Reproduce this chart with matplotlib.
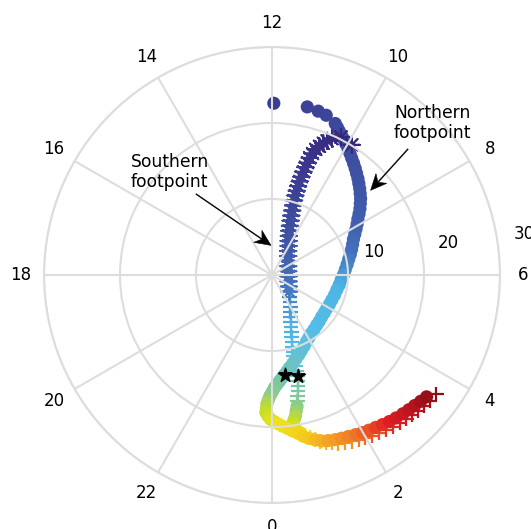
import numpy as np
import matplotlib
matplotlib.use('Agg')
import matplotlib.pyplot as plt
from matplotlib.colors import LinearSegmentedColormap
from matplotlib.patches import FancyArrow

# Northern footpoint track: magnetic local time (h), colatitude (deg), normalised time
north_mlt = [11.96, 11.21, 10.95, 10.75, 10.49, 10.41, 10.33, 10.24, 10.14, 10.04,
             9.93, 9.82, 9.71, 9.59, 9.47, 9.35, 9.22, 9.10, 8.97, 8.85,
             8.72, 8.60, 8.47, 8.34, 8.21, 8.06, 7.91, 7.75, 7.58, 7.39,
             7.19, 6.98, 6.77, 6.53, 6.28, 6.01, 5.74, 5.44, 5.14, 4.82,
             4.49, 4.20, 3.91, 3.61, 3.32, 3.04, 2.77, 2.50, 2.23, 2.03,
             1.83, 1.62, 1.41, 1.23, 1.05, 0.88, 0.72, 0.60, 0.48, 0.37,
             0.27, 0.17, 0.08, 0.01, 23.94, 23.89, 23.85, 23.84, 23.83, 23.89,
             23.96, 0.06, 0.16, 0.27, 0.39, 0.50, 0.62, 0.73, 0.85, 0.98,
             1.11, 1.25, 1.40, 1.54, 1.69, 1.84, 1.99, 2.13, 2.28, 2.43,
             2.58, 2.73, 2.89, 3.03, 3.17, 3.31, 3.45]
north_colat = [22.6, 22.6, 22.4, 22.2, 21.6, 21.25, 20.9, 20.55, 20.2, 19.8,
               19.4, 19.0, 18.6, 18.2, 17.8, 17.4, 17.0, 16.6, 16.2, 15.8,
               15.4, 14.95, 14.5, 14.0, 13.5, 13.05, 12.6, 12.15, 11.7, 11.35,
               11.0, 10.65, 10.3, 9.98, 9.67, 9.40, 9.13, 8.94, 8.75, 8.64,
               8.53, 8.48, 8.44, 8.49, 8.55, 8.70, 8.85, 9.06, 9.27, 9.56,
               9.86, 10.27, 10.68, 11.09, 11.5, 11.95, 12.4, 12.8, 13.2, 13.6,
               14.0, 14.42, 14.85, 15.36, 15.87, 16.41, 16.95, 17.52, 18.1, 18.55,
               18.98, 19.29, 19.6, 19.95, 20.3, 20.7, 21.1, 21.6, 22.05, 22.43,
               22.8, 23.0, 23.2, 23.35, 23.5, 23.7, 23.9, 24.07, 24.25, 24.47,
               24.7, 24.9, 25.1, 25.27, 25.45, 25.67, 25.9]
north_time = [0.10, 0.11, 0.115, 0.12, 0.125, 0.13, 0.135, 0.14, 0.145, 0.15,
              0.155, 0.16, 0.165, 0.17, 0.175, 0.18, 0.185, 0.19, 0.195, 0.20,
              0.205, 0.21, 0.215, 0.22, 0.225, 0.23, 0.235, 0.24, 0.25, 0.26,
              0.27, 0.28, 0.29, 0.30, 0.31, 0.325, 0.34, 0.355, 0.37, 0.375,
              0.38, 0.385, 0.39, 0.395, 0.40, 0.405, 0.41, 0.415, 0.42, 0.425,
              0.43, 0.44, 0.45, 0.46, 0.47, 0.48, 0.49, 0.50, 0.51, 0.52,
              0.53, 0.54, 0.55, 0.56, 0.57, 0.58, 0.59, 0.60, 0.61, 0.62,
              0.63, 0.64, 0.65, 0.655, 0.66, 0.665, 0.67, 0.68, 0.69, 0.70,
              0.71, 0.72, 0.73, 0.74, 0.75, 0.765, 0.78, 0.795, 0.81, 0.825,
              0.84, 0.86, 0.88, 0.90, 0.92, 0.94, 0.96]

# Southern footpoint track; flag: a = asterisk, p = plus, o = circle
south_mlt = [9.90, 10.23, 10.42, 10.51, 10.58, 10.65, 10.72, 10.77, 10.81, 10.83,
             10.85, 10.87, 10.89, 10.90, 10.91, 10.91, 10.91, 10.90, 10.88, 10.84,
             10.80, 10.74, 10.67, 10.58, 10.45, 10.27, 10.02, 9.73, 9.29, 8.70,
             7.89, 6.86, 5.69, 4.59, 3.72, 3.07, 2.61, 2.26, 1.99, 1.76,
             1.59, 1.45, 1.33, 1.25, 1.17, 1.10, 1.04, 1.01, 0.98, 0.97,
             0.96, 0.955, 0.95, 0.91, 0.88, 0.84, 0.80, 0.76, 0.72, 0.67,
             0.63, 0.58, 0.54, 0.56, 0.59, 0.68, 0.77, 0.87, 0.97, 1.08,
             1.20, 1.31, 1.43, 1.57, 1.71, 1.85, 1.99, 2.13, 2.28, 2.42,
             2.57, 2.72, 2.87, 3.00, 3.14, 3.28, 3.43, 3.61]
south_colat = [20.1, 20.3, 19.6, 19.09, 18.6, 18.05, 17.5, 16.85, 16.2, 15.5,
               14.85, 14.2, 13.5, 12.85, 12.18, 11.55, 10.9, 10.23, 9.56, 8.89,
               8.22, 7.56, 6.9, 6.25, 5.61, 4.99, 4.4, 3.81, 3.28, 2.81,
               2.43, 2.19, 2.19, 2.34, 2.69, 3.14, 3.67, 4.23, 4.82, 5.41,
               6.03, 6.65, 7.28, 7.93, 8.57, 9.22, 9.88, 10.47, 11.07, 11.7,
               12.34, 13.02, 13.71, 14.35, 15.0, 15.65, 16.3, 16.95, 17.6, 18.2,
               18.8, 19.25, 19.7, 20.18, 20.65, 21.08, 21.5, 21.95, 22.4, 22.8,
               23.2, 23.5, 23.85, 24.08, 24.3, 24.5, 24.7, 24.9, 25.1, 25.3,
               25.5, 25.7, 25.9, 26.05, 26.2, 26.35, 26.5, 26.7]
south_time = [0.02, 0.03, 0.04, 0.045, 0.05, 0.055, 0.06, 0.065, 0.07, 0.075,
              0.08, 0.085, 0.09, 0.095, 0.10, 0.105, 0.11, 0.115, 0.12, 0.13,
              0.14, 0.15, 0.16, 0.17, 0.18, 0.19, 0.20, 0.21, 0.22, 0.23,
              0.24, 0.25, 0.26, 0.27, 0.28, 0.29, 0.30, 0.31, 0.32, 0.33,
              0.34, 0.35, 0.36, 0.37, 0.38, 0.39, 0.40, 0.42, 0.44, 0.46,
              0.47, 0.49, 0.51, 0.52, 0.53, 0.54, 0.55, 0.56, 0.57, 0.58,
              0.59, 0.60, 0.61, 0.62, 0.63, 0.64, 0.65, 0.66, 0.67, 0.68,
              0.70, 0.71, 0.72, 0.73, 0.74, 0.76, 0.77, 0.79, 0.80, 0.82,
              0.83, 0.85, 0.87, 0.89, 0.91, 0.93, 0.95, 0.98]
south_flag = list('a' * 36 + 'p' * 22 + 'o' * 8 + 'p' * 22)

# footpoints at the event time
event_mlt = [0.48, 0.95]
event_colat = [13.2, 13.71]

mlt_ticks = list(range(0, 24, 2))
colat_ticks = [10, 20, 30]

cmap = LinearSegmentedColormap.from_list('track', [
    (0.00, '#33226f'), (0.06, '#3a2f86'), (0.12, '#3d469a'), (0.20, '#3f55a6'),
    (0.28, '#4472bd'), (0.36, '#4cb3e4'), (0.42, '#55bde6'), (0.47, '#66c1d0'),
    (0.52, '#70c3b2'), (0.57, '#8ccb8c'), (0.61, '#c5de27'), (0.65, '#ede31c'),
    (0.69, '#f5c81e'), (0.73, '#f39a26'), (0.79, '#ea5a28'), (0.84, '#df1f24'),
    (0.92, '#b5121d'), (1.00, '#7a0f14')])


def to_theta(mlt):
    return np.radians(np.asarray(mlt) * 15.0)


fig = plt.figure(figsize=(5.31, 5.29), dpi=100)
ax = fig.add_axes([44 / 531, 26 / 529, 456 / 531, 456 / 529], projection='polar')
ax.set_theta_zero_location('S')
ax.set_theta_direction(1)
ax.set_ylim(0, 30)
ax.set_yticks(colat_ticks)
ax.set_yticklabels([])
ax.set_xticks(to_theta(mlt_ticks))
ax.set_xticklabels([str(h) for h in mlt_ticks], fontsize=12)
ax.grid(color='#dddddd', lw=1.5)
ax.spines['polar'].set_color('#dddddd')
ax.spines['polar'].set_linewidth(1.5)
ax.tick_params(axis='x', pad=6.5)

# colatitude labels just above the 06 MLT meridian
for c in colat_ticks:
    ax.annotate(str(c), xy=(np.radians(97), c), xytext=(11, 6), textcoords='offset points',
                ha='left', va='baseline', fontsize=12)

s_mlt = np.array(south_mlt)
s_col = np.array(south_colat)
s_t = np.array(south_time)
flag = np.array(south_flag)

kw = dict(cmap=cmap, vmin=0, vmax=1)
m = flag == 'p'
ax.scatter(to_theta(s_mlt[m]), s_col[m], c=s_t[m], marker='+', s=110, linewidths=1.6, **kw)
m = flag == 'o'
ax.scatter(to_theta(s_mlt[m]), s_col[m], c=s_t[m], marker='o', s=90, linewidths=0, **kw)
ax.scatter(to_theta(north_mlt), north_colat, c=north_time, marker='o', s=90, linewidths=0, **kw)
m = flag == 'a'
ax.scatter(to_theta(s_mlt[m]), s_col[m], c=s_t[m], marker=(8, 2, 0), s=140, linewidths=1.3, **kw)

ax.scatter(to_theta(event_mlt), event_colat, marker='*', s=110, color='k', zorder=5)


def label_arrow(text, text_px, tail_px, tip_mlt, tip_colat):
    # text and arrow tail are given in pixels from the top-left corner
    h = fig.get_figheight() * fig.dpi
    fig.text(text_px[0] / fig.dpi, (h - text_px[1]) / fig.dpi, text,
             transform=fig.dpi_scale_trans, ha='left', va='center', fontsize=12.3)
    tip = ax.transData.transform((to_theta(tip_mlt), tip_colat)) / fig.dpi
    x0, y0 = tail_px[0] / fig.dpi, (h - tail_px[1]) / fig.dpi
    fig.add_artist(FancyArrow(x0, y0, tip[0] - x0, tip[1] - y0, width=0.008,
                              head_width=0.145, head_length=0.16, overhang=0.3,
                              length_includes_head=True, color='k', lw=0.4,
                              transform=fig.dpi_scale_trans))


label_arrow('Southern\nfootpoint', (131, 172), (196, 194), 12.13, 3.9)
label_arrow('Northern\nfootpoint', (394, 123), (408, 149), 8.71, 17.1)

fig.savefig('out.png', dpi=100)
